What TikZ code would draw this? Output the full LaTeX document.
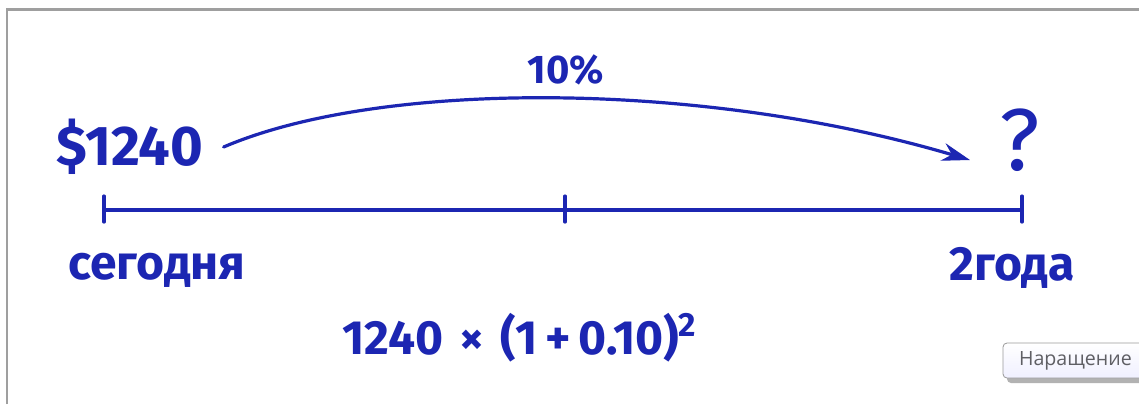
\documentclass[tikz,border=0pt]{standalone}
\usepackage{fontspec}
\usetikzlibrary{arrows.meta}
\newfontfamily\handfont{Fira Sans}
\newfontfamily\tipfont{Open Sans}
\definecolor{ink}{RGB}{28,38,178}
\definecolor{tipgray}{RGB}{95,95,100}

\begin{document}
\begin{tikzpicture}[x=0.5pt,y=-0.5pt]
	\tikzset{hand/.style={text=ink,inner sep=0pt},
		pen/.style={draw=ink,line width=1.6pt,line cap=round}}
	\useasboundingbox (0,0) rectangle (1139,404);
	\fill[white] (0,0) rectangle (1139,404);
	% window frame
	\draw[gray!75,line width=1.2pt] (7,404) -- (7,9.5) -- (1139,9.5);
	% labels
	\node[hand,font=\handfont\bfseries\fontsize{28}{32}\selectfont] (amount) at (130,147) {\$1240};
	\node[hand,font=\handfont\bfseries\fontsize{20}{24}\selectfont] (rate) at (566,70) {10\%};
	\node[hand,font=\handfont\fontsize{44}{48}\selectfont] (unknown) at (1020,140) {?};
	\coordinate (arrowend) at (970,160);
	\draw[pen,-{Stealth[length=14pt,width=9pt]}] ([xshift=10pt]amount.east) .. controls (380,80) and (700,80) .. (arrowend);
	% time line
	\coordinate (t0) at (104,210);
	\coordinate (t1) at (565,210);
	\coordinate (t2) at (1022,210);
	\draw[pen] (t0) -- (t2);
	\foreach \t in {t0,t1,t2}{
		\draw[pen] ([yshift=7pt]\t) -- ([yshift=-6pt]\t);
	}
	\node[hand,font=\handfont\bfseries\fontsize{24}{28}\selectfont] (today) at (157,270) {сегодня};
	\node[hand,font=\handfont\bfseries\fontsize{24}{28}\selectfont] (twoyears) at (1012,268) {2года};
	\node[hand,font=\handfont\bfseries\fontsize{24}{28}\selectfont] (formula) at (520,338) {1240\,\,×\,\,(1\,+\,0.10)\textsuperscript{2}};
	% tooltip
	\fill[gray!60,rounded corners=2pt] (1007,348) rectangle (1150,383);
	\draw[gray!80,shade,top color=white,bottom color=blue!6,rounded corners=2pt] (1003,343) rectangle (1146,378);
	\node[text=tipgray,font=\tipfont\fontsize{9.8}{12}\selectfont,anchor=west] (tip) at (1012,361) {Наращение};
\end{tikzpicture}
\end{document}
